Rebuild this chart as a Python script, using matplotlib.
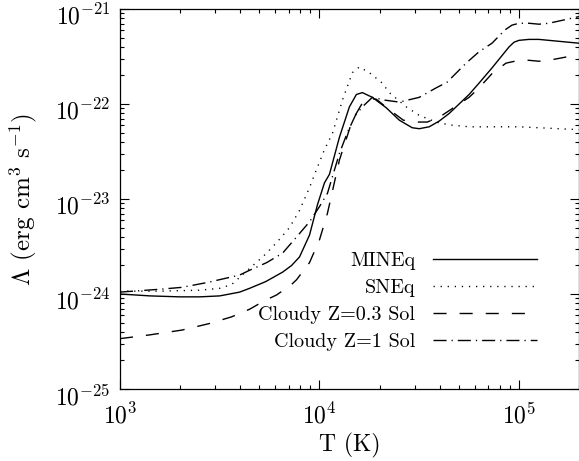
import numpy as np
import matplotlib
matplotlib.use('Agg')
import matplotlib.pyplot as plt
from matplotlib.transforms import ScaledTranslation

plt.rcParams['font.family'] = ['cmr10', 'DejaVu Serif']
plt.rcParams['mathtext.fontset'] = 'cm'
plt.rcParams['mathtext.default'] = 'rm'
plt.rcParams['axes.formatter.use_mathtext'] = True
plt.rcParams['lines.scale_dashes'] = False

# values (log10 T, log10 Lambda)
mineq_logT = [3.00, 3.15, 3.30, 3.40, 3.50, 3.60, 3.65, 3.73, 3.815, 3.86, 3.90, 3.95,
              3.99, 4.025, 4.05, 4.10, 4.15, 4.185, 4.215, 4.265, 4.335, 4.40, 4.465,
              4.50, 4.55, 4.60, 4.65, 4.70, 4.75, 4.80, 4.865, 4.95, 4.975, 5.00, 5.05,
              5.10, 5.15, 5.20, 5.25, 5.301]
mineq_logL = [-24.00, -24.02, -24.03, -24.03, -24.02, -23.98, -23.94, -23.87, -23.77,
              -23.70, -23.61, -23.38, -23.06, -22.83, -22.74, -22.35, -22.03, -21.90,
              -21.88, -21.93, -22.04, -22.17, -22.25, -22.26, -22.24, -22.18, -22.10,
              -22.00, -21.90, -21.78, -21.62, -21.40, -21.35, -21.33, -21.32, -21.32,
              -21.33, -21.34, -21.35, -21.36]

sneq_logT = [3.00, 3.20, 3.40, 3.50, 3.56, 3.65, 3.72, 3.785, 3.85, 3.90, 3.95, 3.985,
             4.025, 4.065, 4.115, 4.165, 4.20, 4.25, 4.315, 4.35, 4.435, 4.50, 4.585,
             4.65, 4.75, 4.85, 5.00, 5.10, 5.20, 5.301]
sneq_logL = [-23.97, -23.97, -23.96, -23.94, -23.90, -23.73, -23.60, -23.46, -23.30,
             -23.12, -22.88, -22.69, -22.48, -22.31, -21.96, -21.67, -21.61, -21.67,
             -21.78, -21.88, -22.03, -22.12, -22.19, -22.22, -22.24, -22.24, -22.24,
             -22.25, -22.26, -22.27]

z03_logT = [3.00, 3.15, 3.31, 3.45, 3.56, 3.65, 3.725, 3.785, 3.86, 3.885, 3.95, 4.00,
            4.04, 4.10, 4.165, 4.215, 4.25, 4.285, 4.35, 4.42, 4.48, 4.54, 4.60, 4.65,
            4.70, 4.75, 4.80, 4.865, 4.935, 5.00, 5.05, 5.10, 5.15, 5.20, 5.25, 5.301]
z03_logL = [-24.47, -24.43, -24.38, -24.31, -24.24, -24.16, -24.07, -24.01, -23.90,
            -23.85, -23.67, -23.43, -23.15, -22.59, -22.17, -21.99, -21.94, -21.95,
            -22.06, -22.17, -22.19, -22.19, -22.14, -22.07, -22.00, -21.93, -21.83,
            -21.68, -21.57, -21.54, -21.54, -21.55, -21.54, -21.52, -21.50, -21.48]

z1_logT = [3.00, 3.20, 3.31, 3.435, 3.56, 3.60, 3.65, 3.735, 3.815, 3.885, 3.95, 4.00,
           4.04, 4.10, 4.14, 4.18, 4.215, 4.265, 4.33, 4.40, 4.50, 4.585, 4.64, 4.735,
           4.80, 4.865, 4.93, 4.965, 5.00, 5.05, 5.10, 5.15, 5.215, 5.301]
z1_logL = [-23.98, -23.95, -23.93, -23.88, -23.82, -23.80, -23.75, -23.67, -23.57,
           -23.40, -23.24, -23.08, -22.94, -22.52, -22.30, -22.12, -22.03, -21.93,
           -21.96, -21.98, -21.93, -21.83, -21.77, -21.57, -21.45, -21.36, -21.22,
           -21.17, -21.15, -21.15, -21.16, -21.15, -21.12, -21.08]

labels = ['MINEq', 'SNEq', 'Cloudy Z=0.3 Sol', 'Cloudy Z=1 Sol']
xticks = [1e3, 1e4, 1e5]
yticks = [1e-25, 1e-24, 1e-23, 1e-22, 1e-21]

fig = plt.figure(figsize=(5.79, 4.61), dpi=100)
ax = fig.add_axes([120/579, 1 - 389/461, 459/579, 380/461])

lw = 1.0
ax.plot(10**np.array(mineq_logT), 10**np.array(mineq_logL), color='k', lw=lw,
        linestyle='-', label=labels[0])
ax.plot(10**np.array(sneq_logT), 10**np.array(sneq_logL), color='k', lw=lw,
        linestyle=(0, (0.9, 4.2)), label=labels[1])
ax.plot(10**np.array(z03_logT), 10**np.array(z03_logL), color='k', lw=lw,
        linestyle=(0, (9.4, 9.4)), label=labels[2])
ax.plot(10**np.array(z1_logT), 10**np.array(z1_logL), color='k', lw=lw,
        linestyle=(0, (9.4, 3.6, 0.9, 3.6)), label=labels[3])

ax.set_xscale('log')
ax.set_yscale('log')
ax.set_xticks(xticks)
ax.set_yticks(yticks)
ax.set_xlim(1e3, 2e5)
ax.set_ylim(1e-25, 1e-21)

ax.tick_params(which='both', direction='in', top=True, right=True, width=0.8,
               labelsize=17)
ax.tick_params(which='major', length=6.5)
ax.tick_params(which='minor', length=3)
ax.tick_params(axis='x', which='major', pad=10)
ax.tick_params(axis='y', which='major', pad=7)
for s in ax.spines.values():
    s.set_linewidth(0.9)

# IDL puts the y labels a bit below the tick
shift = ScaledTranslation(0, -4/72, fig.dpi_scale_trans)
for lab in ax.get_yticklabels():
    lab.set_transform(lab.get_transform() + shift)

ax.set_xlabel('T (K)', fontsize=17, labelpad=3)
ax.set_ylabel(r'$\Lambda$ (erg cm$^3$ s$^{-1}$)', fontsize=18, labelpad=11)

ax.legend(loc='center right', bbox_to_anchor=(0.9085, 0.230), markerfirst=False,
          frameon=False, fontsize=14.5, handlelength=5.15, handletextpad=0.9,
          labelspacing=0.44, borderpad=0, borderaxespad=0)

fig.savefig('out.png', dpi=100)
